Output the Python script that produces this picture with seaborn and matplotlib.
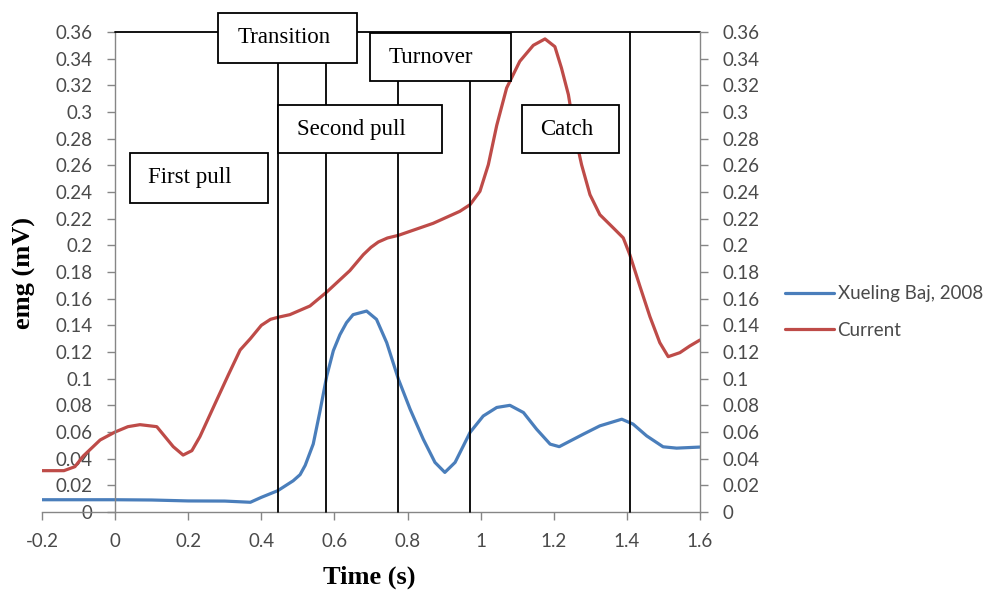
import matplotlib
matplotlib.use("Agg")
import matplotlib.pyplot as plt
from matplotlib.patches import Rectangle
from matplotlib.ticker import FuncFormatter, MultipleLocator
import seaborn as sns
import pandas as pd

# ---- data ----
blue_label = "Xueling Baj, 2008"
blue_x = [-0.2, -0.1, 0.0, 0.1, 0.2, 0.3, 0.37, 0.4, 0.445, 0.487, 0.506, 0.52,
          0.542, 0.56, 0.579, 0.597, 0.615, 0.633, 0.651, 0.688, 0.715, 0.743,
          0.775, 0.807, 0.843, 0.875, 0.902, 0.93, 0.971, 1.007, 1.044, 1.08,
          1.117, 1.153, 1.19, 1.215, 1.281, 1.326, 1.386, 1.417, 1.454, 1.499,
          1.536, 1.6]
blue_y = [0.0092, 0.0092, 0.0092, 0.009, 0.0083, 0.0082, 0.0073, 0.011, 0.016,
          0.0234, 0.028, 0.035, 0.051, 0.075, 0.102, 0.121, 0.133, 0.142, 0.148,
          0.1507, 0.1445, 0.127, 0.0996, 0.0771, 0.0546, 0.0372, 0.0297, 0.0372,
          0.0597, 0.072, 0.0784, 0.080, 0.0746, 0.0621, 0.0509, 0.049, 0.0584,
          0.0646, 0.0696, 0.0659, 0.0571, 0.0489, 0.0479, 0.0487]

red_label = "Current"
red_x = [-0.2, -0.14, -0.11, -0.087, -0.041, 0.0, 0.035, 0.068, 0.114, 0.159,
         0.186, 0.21, 0.232, 0.278, 0.31, 0.342, 0.37, 0.4, 0.425, 0.445, 0.478,
         0.533, 0.579, 0.642, 0.679, 0.7, 0.72, 0.745, 0.775, 0.87, 0.943, 0.971,
         0.998, 1.021, 1.044, 1.071, 1.107, 1.144, 1.176, 1.203, 1.221, 1.24,
         1.258, 1.276, 1.299, 1.326, 1.363, 1.39, 1.408, 1.436, 1.463, 1.49,
         1.513, 1.545, 1.572, 1.6]
red_y = [0.031, 0.031, 0.034, 0.042, 0.054, 0.060, 0.064, 0.0655, 0.064, 0.049,
         0.0427, 0.046, 0.0565, 0.084, 0.103, 0.1215, 0.130, 0.140, 0.1445, 0.146,
         0.148, 0.1545, 0.165, 0.181, 0.193, 0.1985, 0.2025, 0.2055, 0.2075,
         0.2165, 0.2255, 0.2305, 0.2405, 0.2605, 0.290, 0.318, 0.338, 0.350,
         0.3548, 0.349, 0.333, 0.313, 0.283, 0.2605, 0.238, 0.223, 0.213, 0.2056,
         0.193, 0.169, 0.1465, 0.127, 0.1165, 0.1195, 0.1245, 0.129]

# phase boxes: label, x0, x1, y0, y1, text x
phase_labels = ["Transition", "First pull", "Second pull", "Turnover", "Catch"]
phase_x0 = [0.281, 0.041, 0.4455, 0.697, 1.113]
phase_x1 = [0.662, 0.418, 0.894, 1.083, 1.378]
phase_y0 = [0.3368, 0.232, 0.269, 0.323, 0.269]
phase_y1 = [0.3743, 0.269, 0.305, 0.359, 0.305]
phase_tx = [0.463, 0.205, 0.645, 0.865, 1.235]

# phase boundary lines: x, top y
bound_x = [0.445, 0.577, 0.774, 0.971, 1.408]
bound_top = [0.3368, 0.3368, 0.323, 0.323, 0.36]

x_ticks = [-0.2, 0, 0.2, 0.4, 0.6, 0.8, 1.0, 1.2, 1.4, 1.6]

# ---- build frame ----
df = pd.concat([
    pd.DataFrame({"t": blue_x, "emg": blue_y, "series": blue_label}),
    pd.DataFrame({"t": red_x, "emg": red_y, "series": red_label}),
], ignore_index=True)

sns.set_style("white")
plt.rcParams["font.family"] = ["Lato", "DejaVu Sans"]

AX_GRAY = "#868686"
TXT_GRAY = "#4a4a4a"

fig = plt.figure(figsize=(10, 5.9), dpi=100)
ax = fig.add_axes([0.042, 0.1322, 0.658, 0.8136])

sns.lineplot(data=df, x="t", y="emg", hue="series", sort=False, estimator=None,
             palette={blue_label: "#4A7EBB", red_label: "#BE4B48"},
             linewidth=2.3, ax=ax, zorder=2)
for ln in ax.get_lines():
    ln.set_solid_joinstyle("round")
    ln.set_solid_capstyle("round")

ax.set_xlim(-0.2, 1.6)
ax.set_ylim(0, 0.36)

fmt = FuncFormatter(lambda v, p: f"{round(v, 4):g}")
ax.set_xticks(x_ticks)
ax.xaxis.set_major_formatter(fmt)
ax.yaxis.set_major_locator(MultipleLocator(0.02))
ax.yaxis.set_major_formatter(fmt)

for s in ["top", "right"]:
    ax.spines[s].set_visible(False)
ax.spines["left"].set_position(("data", 0))
for s in ["left", "bottom"]:
    ax.spines[s].set_color(AX_GRAY)
    ax.spines[s].set_linewidth(1.0)
ax.tick_params(axis="both", direction="out", length=5.8, width=1.0,
               color=AX_GRAY, labelcolor=TXT_GRAY, labelsize=13.5)
ax.tick_params(axis="y", pad=10.5, left=True)
ax.tick_params(axis="x", pad=9, bottom=True)

ax2 = ax.twinx()
ax2.set_ylim(0, 0.36)
ax2.yaxis.set_major_locator(MultipleLocator(0.02))
ax2.yaxis.set_major_formatter(fmt)
for s in ["top", "left", "bottom"]:
    ax2.spines[s].set_visible(False)
ax2.spines["right"].set_color(AX_GRAY)
ax2.spines["right"].set_linewidth(1.0)
ax2.tick_params(axis="y", direction="out", length=5.8, width=1.0, right=True,
                color=AX_GRAY, labelcolor=TXT_GRAY, labelsize=13.5, pad=10.5)

# axis labels
ax.set_xlabel("Time (s)", family="Liberation Serif", fontweight="bold",
              fontsize=19, color="black")
ax.xaxis.label.set_va("center")
ax.xaxis.set_label_coords(0.497, -0.135)
ax.set_ylabel("emg (mV)", family="Liberation Serif", fontweight="bold",
              fontsize=19, color="black")
ax.yaxis.label.set_va("center")
ax.yaxis.set_label_coords(-0.026, 0.498)

# phase annotations
ax.plot([0, 1.6], [0.36, 0.36], color="black", lw=1.3, zorder=3, clip_on=False)
for bx, bt in zip(bound_x, bound_top):
    ax.plot([bx, bx], [0, bt], color="black", lw=1.3, zorder=3, clip_on=False)
for lab, x0, x1, y0, y1, tx in zip(phase_labels, phase_x0, phase_x1,
                                   phase_y0, phase_y1, phase_tx):
    ax.add_patch(Rectangle((x0, y0), x1 - x0, y1 - y0, facecolor="white",
                           edgecolor="black", lw=1.3, zorder=4, clip_on=False))
    ax.text(tx, (y0 + y1) / 2, lab, ha="center", va="center",
            family="Liberation Serif", fontsize=16.5, color="black",
            zorder=5, clip_on=False)

# legend
handles, labels = ax.get_legend_handles_labels()
ax.legend(handles, labels, loc="center left", bbox_to_anchor=(0.785, 0.471),
          bbox_transform=fig.transFigure, frameon=False, fontsize=13.5,
          handlelength=2.6, handletextpad=0.2, labelspacing=1.05,
          borderpad=0, borderaxespad=0, labelcolor=TXT_GRAY)

fig.savefig("out.png", dpi=100)
